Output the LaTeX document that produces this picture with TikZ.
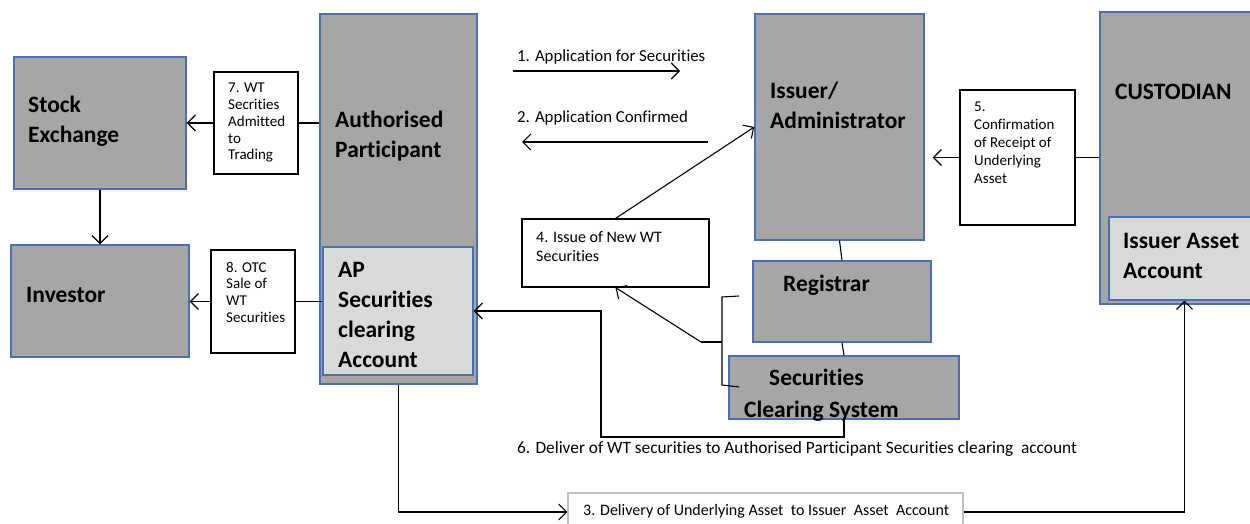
\documentclass[tikz,border=0pt]{standalone}
\usepackage{fontspec}
\setmainfont{Carlito}[Ligatures=NoCommon]
\usetikzlibrary{arrows.meta}

\definecolor{boxgrey}{HTML}{A6A6A6}
\definecolor{accgrey}{HTML}{D9D9D9}
\definecolor{boxblue}{HTML}{4A6FB5}
\definecolor{lightline}{HTML}{C0C0C0}

% lines of a label, first baseline on the node's base
\newcommand{\lines}[1]{\begin{tabular}[t]{@{}l@{}}#1\end{tabular}}

\tikzset{
  party/.style={draw=boxblue, fill=boxgrey, line width=1.4pt, inner sep=0pt},
  account/.style={draw=boxblue, fill=accgrey, line width=1.4pt, inner sep=0pt},
  stepnote/.style={draw=black, fill=white, line width=1.1pt, inner sep=0pt},
  head/.style={anchor=base west, inner sep=0pt,
    font=\fontsize{23.5}{30}\selectfont\bfseries},
  note/.style={anchor=base west, inner sep=0pt,
    font=\fontsize{15}{16.7}\selectfont},
  flow/.style={anchor=base west, inner sep=0pt,
    font=\fontsize{16.8}{19}\selectfont},
  link/.style={line width=1.1pt, black},
  >={Straight Barb[length=8pt,width=16pt]}
}

\begin{document}
\begin{tikzpicture}[x=1pt,y=-1pt]
                    \clip (0,0) rectangle (1250,524);

                    % parties
                    \node[party, minimum width=172, minimum height=132] (stock) at (100,123) {};
                    \node[party, minimum width=178, minimum height=112] (invest) at (100,301) {};
                    \node[party, minimum width=157, minimum height=370] (ap) at (398.5,199) {};
                    \node[account, minimum width=150, minimum height=128] (apacc) at (398,311) {};
                    \node[party, minimum width=169, minimum height=226] (issuer) at (839.5,127) {};
                    \node[party, minimum width=178, minimum height=81] (regis) at (842,301.5) {};
                    \node[party, minimum width=230, minimum height=63] (css) at (844,387.5) {};
                    \node[party, minimum width=160, minimum height=292] (cust) at (1180,158) {};
                    \node[account, minimum width=151, minimum height=83] (issacc) at (1184.5,258.5) {};

                    \node[head] (stocktxt) at (28,113) {\lines{Stock\\Exchange}};
                    \node[head] (investtxt) at (26,302) {Investor};
                    \node[head] (aptxt) at (335,128) {\lines{Authorised\\Participant}};
                    \node[head] (apacctxt) at (338,277) {\lines{AP\\Securities\\clearing\\Account}};
                    \node[head] (issuertxt) at (770,99) {\lines{Issuer/\\Administrator}};
                    \node[head] (registxt) at (783,291) {Registrar};
                    \node[head] (csstxt) at (769,385) {Securities};
                    \node[head] (csstxtb) at (744,417) {Clearing System};
                    \node[head] (custtxt) at (1115,100) {CUSTODIAN};
                    \node[head] (issacctxt) at (1123,248) {\lines{Issuer Asset\\Account}};

                    % numbered steps
                    \node[stepnote, minimum width=84, minimum height=102] (stepseven) at (256,123) {};
                    \node[stepnote, minimum width=84, minimum height=103] (stepeight) at (253,301.5) {};
                    \node[stepnote, minimum width=187, minimum height=68] (stepfour) at (615.5,253) {};
                    \node[stepnote, minimum width=115, minimum height=135] (stepfive) at (1017.5,157.5) {};
                    \node[stepnote, draw=lightline, minimum width=395, minimum height=38] (stepthree) at (765.5,512) {};

                    \node[note] (seventxt) at (228,93) {\lines{7. WT\\Secrities\\Admitted\\to\\Trading}};
                    \node[note] (eighttxt) at (226,272) {\lines{8. OTC\\Sale of\\WT\\Securities}};
                    \node[note, font=\fontsize{15}{18}\selectfont] (fivetxt) at (974,112) {\lines{5.\\Confirmation\\of Receipt of\\Underlying\\Asset}};
                    \node[flow, font=\fontsize{16}{19}\selectfont] (fourtxt) at (536,242) {\lines{4. Issue of New WT\\Securities}};
                    \node[flow] (onetxt) at (517,62) {1. Application for Securities};
                    \node[flow] (twotxt) at (517,123) {2. Application Confirmed};
                    \node[flow, font=\fontsize{17.3}{19}\selectfont] (sixtxt) at (517,453) {6. Deliver of WT securities to Authorised Participant Securities clearing\ \ account};
                    \node[flow, font=\fontsize{16}{19}\selectfont] (threetxt) at (583,515) {3. Delivery of Underlying Asset\ \ to Issuer\ \ Asset\ \ Account};

                    \coordinate (onefrom) at (513,71);
                    \coordinate (oneto) at (680,71);
                    \coordinate (twofrom) at (708,142);
                    \coordinate (twoto) at (522,142);
                    \coordinate (bracetip) at (701,342);

                    % connectors
                    \draw[link,->] (onefrom) -- (oneto);
                    \draw[link,->] (twofrom) -- (twoto);
                    \draw[link,->] (stepseven.west) -- (stepseven.west -| stock.east);
                    \draw[link] (stepseven.east) -- (stepseven.east -| ap.west);
                    \draw[link,->] (stock.south) -- (invest.north);
                    \draw[link,->] (stepeight.west) -- (stepeight.west -| invest.east);
                    \draw[link] (stepeight.east) -- (stepeight.east -| apacc.west);
                    \draw[link,->] (stepfive.west) -- ([xshift=8]stepfive.west -| issuer.east);
                    \draw[link] (stepfive.east) -- (stepfive.east -| cust.west);
                    \draw[link] (issuer.south) -- (regis.north);
                    \draw[link] (regis.south) -- (css.north);
                    \draw[link,->] (stepfour.north) -- (issuer.west);
                    \draw[link] (739,296) -- (722,297) -- (722,385) -- (739,387);
                    \draw[link] (722,342) -- (bracetip);
                    \draw[link,->] (bracetip) -- (stepfour.south);
                    \draw[link,->] (css.south) |- (601,437) |- (apacc.east);
                    \draw[link,->] (ap.south) |- (stepthree.west);
                    \draw[link,->] (stepthree.east) -| (issacc.south);

                \end{tikzpicture}
\end{document}
